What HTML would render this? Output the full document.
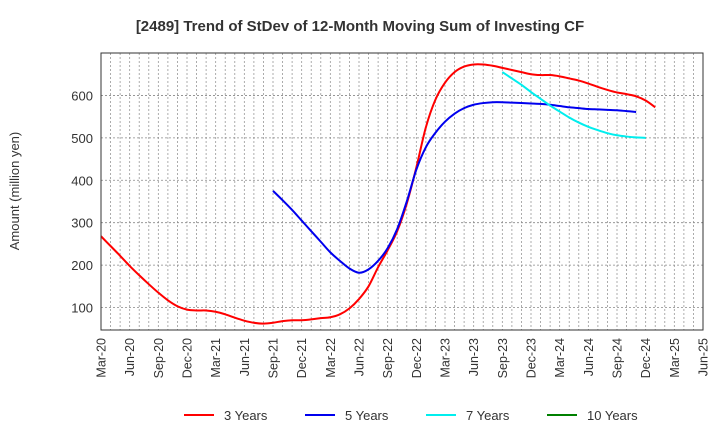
<!DOCTYPE html>
<html><head><meta charset="utf-8"><style>
body{margin:0;background:#fff;}
svg{display:block;font-family:"Liberation Sans",Arial,sans-serif;}
</style></head><body>
<svg id="chart" width="720" height="440" viewBox="0 0 720 440">
<text x="360" y="31" text-anchor="middle" font-size="15" font-weight="bold" fill="#333">[2489]  Trend of StDev of 12-Month Moving Sum of Investing CF</text>
<text transform="translate(19,191) rotate(-90)" text-anchor="middle" font-size="13" fill="#333">Amount (million yen)</text>
<g id="grid"></g><g id="series"></g><g id="axes"></g><g id="legend"></g>
</svg>
<script>
const xLabels=["Mar-20","Jun-20","Sep-20","Dec-20","Mar-21","Jun-21","Sep-21","Dec-21","Mar-22","Jun-22","Sep-22","Dec-22","Mar-23","Jun-23","Sep-23","Dec-23","Mar-24","Jun-24","Sep-24","Dec-24","Mar-25","Jun-25"];
const yTicks=[100,200,300,400,500,600];
const s3Start=0;
const s3=[268,245,222,198,176,155,135,117,103,95,93,93,90,84,76,69,64,62,64,68,70,70,72,75,77,84,98,120,150,195,235,280,345,430,525,590,630,655,668,673,673,670,665,660,655,650,648,648,645,640,635,628,620,613,607,603,598,588,572];
const s5Start=18;
const s5=[375,353,330,305,280,255,230,210,192,182,190,210,240,285,350,425,478,512,538,557,570,578,582,584,584,583,582,581,580,578,575,572,570,568,567,566,565,563,561];
const s7Start=42;
const s7=[655,640,625,608,592,576,562,548,536,526,518,511,506,503,501,500];
const s10Start=0;
const s10=[];
const L=101,R=703,T=53,B=330,NM=63;
const yMin=47,yMax=700;
const xs=i=>L+(R-L)*i/NM;
const ys=v=>B-(v-yMin)/(yMax-yMin)*(B-T);
const NS="http://www.w3.org/2000/svg";
function mk(p,t,a){const e=document.createElementNS(NS,t);for(const k in a)e.setAttribute(k,a[k]);p.appendChild(e);return e;}
const grid=document.getElementById('grid'),axes=document.getElementById('axes'),ser=document.getElementById('series'),leg=document.getElementById('legend');
for(let m=1;m<NM;m++){const g=mk(grid,'line',{x1:xs(m),x2:xs(m),y1:T,y2:B,stroke:'#999','stroke-width':0.8,'stroke-dasharray':'2,2'});

}
yTicks.forEach(v=>{const g=mk(grid,'line',{x1:L,x2:R,y1:ys(v),y2:ys(v),stroke:'#888','stroke-width':0.8,'stroke-dasharray':'2,2'});


const t=mk(axes,'text',{x:L-8,y:ys(v)+5,'text-anchor':'end','font-size':13,fill:'#333'});t.textContent=v;

});
const fr=mk(axes,'rect',{x:L,y:T,width:R-L,height:B-T,fill:'none',stroke:'#333','stroke-width':1});


xLabels.forEach((l,i)=>{const x=xs(i*3);const t=mk(axes,'text',{transform:`translate(${x+4.5},338) rotate(-90)`,'text-anchor':'end','font-size':12.5,fill:'#333'});t.textContent=l;

});
function path(data,start){const p=data.map((v,i)=>[xs(start+i),ys(v)]);if(p.length<2)return'';let d=`M${p[0][0]},${p[0][1]}`;
for(let i=0;i<p.length-1;i++){const p0=p[Math.max(0,i-1)],p1=p[i],p2=p[i+1],p3=p[Math.min(p.length-1,i+2)];
d+=` C${p1[0]+(p2[0]-p0[0])/6},${p1[1]+(p2[1]-p0[1])/6} ${p2[0]-(p3[0]-p1[0])/6},${p2[1]-(p3[1]-p1[1])/6} ${p2[0]},${p2[1]}`;}return d;}
[[s3,s3Start,'#ff0000','series-3-years'],[s5,s5Start,'#0000ee','series-5-years'],[s7,s7Start,'#00eeee','series-7-years'],[s10,s10Start,'#008000','series-10-years']].forEach(([d,s,c,n])=>{if(d.length<2)return;
const e=mk(ser,'path',{d:path(d,s),fill:'none',stroke:c,'stroke-width':2});

});
[['3 Years','#ff0000',184],['5 Years','#0000ee',305],['7 Years','#00eeee',426],['10 Years','#008000',547]].forEach(([l,c,x])=>{
const g=mk(leg,'g',{});


mk(g,'line',{x1:x,x2:x+30,y1:415,y2:415,stroke:c,'stroke-width':2});
const t=mk(g,'text',{x:x+40,y:420,'font-size':13,fill:'#333'});t.textContent=l;});
</script>
</body></html>
